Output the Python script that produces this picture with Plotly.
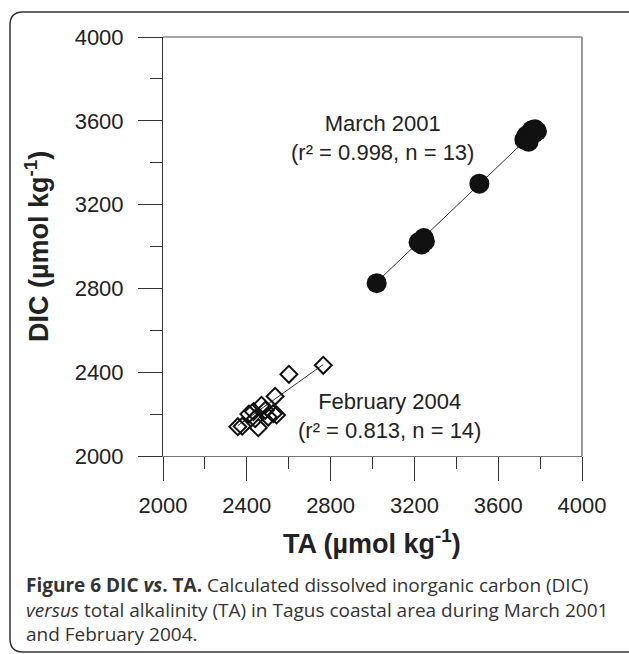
import plotly.graph_objects as go

# ---- data ----
ta_mar2001 = [3020, 3220, 3235, 3245, 3250, 3510, 3725, 3735, 3745, 3760, 3770, 3775, 3785]
dic_mar2001 = [2825, 3020, 3010, 3040, 3025, 3300, 3510, 3530, 3500, 3555, 3540, 3560, 3550]

ta_feb2004 = [2357, 2378, 2410, 2432, 2440, 2455, 2470, 2488, 2502, 2526, 2542, 2535, 2601, 2765]
dic_feb2004 = [2140, 2142, 2200, 2212, 2178, 2135, 2242, 2218, 2186, 2202, 2196, 2285, 2390, 2433]

fit_mar_ta = [3020, 3780]
fit_mar_dic = [2830, 3555]
fit_feb_ta = [2357, 2765]
fit_feb_dic = [2145, 2437]

x_ticks = [2000, 2400, 2800, 3200, 3600, 4000]
y_ticks = [2000, 2400, 2800, 3200, 3600, 4000]

label_mar = "March 2001<br>(r² = 0.998, n = 13)"
label_feb = "February 2004<br>(r² = 0.813, n = 14)"
x_title = "TA (µmol kg<sup>-1</sup>)"
y_title = "DIC (µmol kg<sup>-1</sup>)"
caption = ("<b>Figure 6 DIC <i>vs</i>. TA.</b> Calculated dissolved inorganic carbon (DIC)<br>"
           "<i>versus</i> total alkalinity (TA) in Tagus coastal area during March 2001<br>"
           "and February 2004.")

# ---- layout geometry (pixels) ----
W, H = 629, 654
L, R, T, B = 163, 47, 37, 198
PW, PH = W - L - R, H - T - B


def px(x):
    return (x - L) / PW


def py(y):
    return (H - B - y) / PH


AX = "Liberation Sans, Arial, sans-serif"
fig = go.Figure()

fig.add_trace(go.Scatter(x=fit_feb_ta, y=fit_feb_dic, mode="lines",
                         line=dict(color="#333", width=1), hoverinfo="skip", showlegend=False))
fig.add_trace(go.Scatter(x=fit_mar_ta, y=fit_mar_dic, mode="lines",
                         line=dict(color="#333", width=1), hoverinfo="skip", showlegend=False))
fig.add_trace(go.Scatter(x=ta_feb2004, y=dic_feb2004, mode="markers",
                         marker=dict(symbol="diamond-open", size=13, color="#111",
                                     line=dict(width=2, color="#111")),
                         showlegend=False))
fig.add_trace(go.Scatter(x=ta_mar2001, y=dic_mar2001, mode="markers",
                         marker=dict(symbol="circle", size=20, color="#111",
                                     line=dict(width=0)),
                         showlegend=False))

axis_common = dict(
    ticks="outside", ticklen=24, tickwidth=1, tickcolor="#333",
    showgrid=False, zeroline=False, showline=True, linewidth=1,
    tickfont=dict(family=AX, size=22, color="#222"),
    minor=dict(ticks="outside", ticklen=12, tickwidth=1, tickcolor="#333", dtick=200, showgrid=False),
)
fig.update_xaxes(range=[2000, 4000], tickvals=x_ticks, linecolor="#777",
                 ticklabelstandoff=6, **axis_common)
fig.update_yaxes(range=[2000, 4000], tickvals=y_ticks, linecolor="#333",
                 ticklabelstandoff=10, **axis_common)

# frame top and right
shapes = [
    dict(type="line", xref="paper", yref="paper", x0=0, x1=1, y0=1, y1=1,
         line=dict(color="#888", width=1.5)),
    dict(type="line", xref="paper", yref="paper", x0=1, x1=1, y0=0, y1=1,
         line=dict(color="#999", width=2)),
]
# outer rounded caption box
bx0, by0, bx1, by1, rr = 10, 12, 700, 652, 13
path = (f"M {px(bx1)} {py(by0)} L {px(bx0 + rr)} {py(by0)} "
        f"Q {px(bx0)} {py(by0)} {px(bx0)} {py(by0 + rr)} "
        f"L {px(bx0)} {py(by1 - rr)} "
        f"Q {px(bx0)} {py(by1)} {px(bx0 + rr)} {py(by1)} "
        f"L {px(bx1)} {py(by1)}")
shapes.append(dict(type="path", xref="paper", yref="paper", path=path,
                   line=dict(color="#333", width=1.5)))

annotations = [
    dict(text=label_mar, x=px(382), y=py(138), xref="paper", yref="paper",
         showarrow=False, align="center", xanchor="center", yanchor="middle",
         font=dict(family=AX, size=22, color="#222")),
    dict(text=label_feb, x=px(389), y=py(416), xref="paper", yref="paper",
         showarrow=False, align="center", xanchor="center", yanchor="middle",
         font=dict(family=AX, size=22, color="#222")),
    dict(text=f"<b>{x_title}</b>", x=px(372), y=py(542), xref="paper", yref="paper",
         showarrow=False, xanchor="center", yanchor="middle",
         font=dict(family=AX, size=27, color="#222")),
    dict(text=f"<b>{y_title}</b>", x=px(37), y=py(246), xref="paper", yref="paper",
         showarrow=False, xanchor="center", yanchor="middle", textangle=-90,
         font=dict(family=AX, size=27, color="#222")),
    dict(text=caption, x=px(24), y=py(609), xref="paper", yref="paper",
         showarrow=False, xanchor="left", yanchor="middle", align="left",
         font=dict(family="Open Sans, sans-serif", size=19, color="#333")),
]

fig.update_layout(
    width=W, height=H, margin=dict(l=L, r=R, t=T, b=B),
    paper_bgcolor="white", plot_bgcolor="white",
    shapes=shapes, annotations=annotations, showlegend=False,
)

fig.write_html("out.html", config={"displayModeBar": False})
